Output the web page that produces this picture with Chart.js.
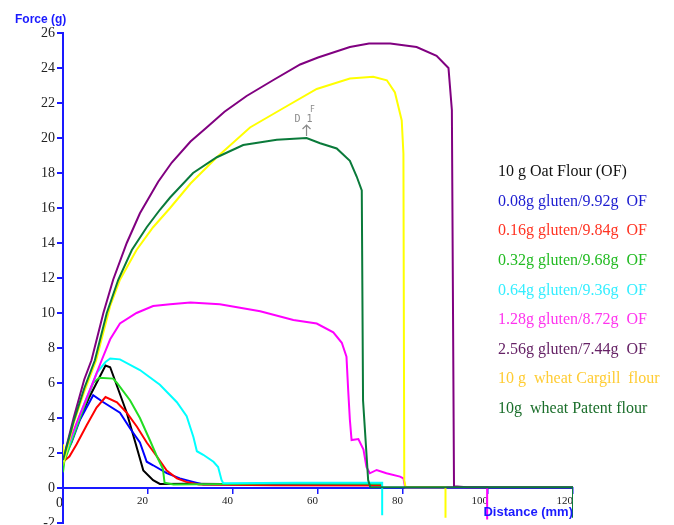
<!DOCTYPE html>
<html><head><meta charset="utf-8">
<script src="https://cdn.jsdelivr.net/npm/chart.js@4/dist/chart.umd.min.js"></script>
<style>html,body{margin:0;padding:0;background:#fff;}#wrap{width:674px;height:525px;position:relative;}</style>
</head><body><div id="wrap"><canvas id="c"></canvas></div>
<script>
// ---- data (distance mm, force g) ----
const oatX = [0, 3, 6, 10, 11.1, 12.6, 15, 16.9, 18.9, 21.2, 22.8, 30, 45, 60, 75];
const oatY = [1.7, 3.4, 5.1, 7.0, 6.9, 5.9, 4.3, 2.7, 1.0, 0.45, 0.23, 0.25, 0.22, 0.25, 0.25];

const g008X = [0, 2, 4, 7.1, 9.5, 13.4, 15.8, 18.1, 19.7, 21.2, 24.4, 27.5, 30.6, 33, 50, 75];
const g008Y = [1.6, 2.6, 3.9, 5.3, 4.9, 4.3, 3.4, 2.6, 1.5, 1.3, 0.85, 0.55, 0.35, 0.2, 0.2, 0.2];

const g016X = [0, 1.5, 3.2, 5.6, 7.9, 10, 12.7, 15, 17.4, 19.7, 22.1, 24.4, 26.8, 29, 32, 50, 75];
const g016Y = [1.5, 1.8, 2.5, 3.6, 4.6, 5.2, 4.9, 4.3, 3.5, 2.6, 1.8, 1.0, 0.55, 0.35, 0.2, 0.15, 0.15];

const g032X = [0, 0.3, 4, 7.1, 8.5, 11.8, 12.7, 15.8, 18.1, 20.5, 22.1, 23.5, 23.9, 26, 50, 75];
const g032Y = [0.9, 1.5, 4.0, 6.0, 6.3, 6.25, 6.0, 5.0, 4.0, 2.7, 1.8, 1.1, 0.3, 0.2, 0.25, 0.25];

const g064X = [0, 4, 8, 10, 11.1, 13.4, 18.1, 22.8, 26.8, 29.1, 30.7, 31.5, 33, 35.4, 36.5, 37.3, 37.7, 55, 75.1, 75.1];
const g064Y = [1.5, 4.2, 6.6, 7.2, 7.4, 7.35, 6.74, 5.9, 4.9, 4.1, 2.9, 2.1, 1.9, 1.5, 1.2, 0.46, 0.27, 0.3, 0.3, -1.55];

const g128X = [0, 3.5, 7, 9.1, 11.1, 13.4, 17.3, 21.2, 25.2, 30, 36.9, 46.4, 54.2, 59.7, 63.6, 65.6, 66.7, 67.1, 67.5, 67.9, 69.5, 70.7, 71.4, 72.2, 73.8, 76.1, 79.3, 80.1, 80.5, 99.8, 99.8];
const g128Y = [1.7, 3.9, 6.0, 7.3, 8.5, 9.4, 10.0, 10.4, 10.5, 10.6, 10.5, 10.1, 9.6, 9.4, 8.9, 8.3, 7.5, 5.6, 3.9, 2.74, 2.8, 2.2, 1.2, 0.84, 1.03, 0.84, 0.65, 0.55, 0.05, 0.05, -1.8];

const g256X = [0, 2.5, 5, 6.7, 9.5, 11.8, 15, 18.1, 22.4, 25.6, 30, 33.8, 38, 43.2, 49.4, 55.8, 60, 67.5, 72, 77, 83.2, 87.9, 90.7, 91.5, 92, 95, 120];
const g256Y = [1.6, 4.0, 6.2, 7.3, 10.0, 11.9, 14.0, 15.7, 17.5, 18.6, 19.8, 20.6, 21.5, 22.4, 23.3, 24.2, 24.6, 25.2, 25.4, 25.4, 25.2, 24.7, 24.0, 21.6, 0.1, 0.05, 0.05];

const cargillX = [0, 0.3, 2.5, 5, 7.8, 11.1, 13.4, 17.3, 21.2, 25.2, 30, 36.2, 44, 51.8, 59.7, 67.5, 73, 76.2, 78.1, 79.7, 80.1, 80.3, 80.6, 90, 90];
const cargillY = [2.5, 1.6, 3.7, 5.5, 7.3, 10.4, 11.9, 13.6, 14.9, 16.0, 17.4, 18.9, 20.6, 21.7, 22.8, 23.4, 23.5, 23.3, 22.6, 21.0, 19.1, 0.45, 0.05, 0.05, -1.7];

const patentX = [0, 2.5, 5, 7.5, 10.3, 13, 16.2, 19.7, 22.8, 25.2, 30.6, 36.2, 42.4, 50.3, 57.3, 60.5, 64.4, 67.5, 69.1, 70.3, 70.6, 71.8, 72.3, 120, 120];
const patentY = [1.6, 3.8, 5.7, 7.3, 10.0, 11.9, 13.6, 14.9, 15.9, 16.6, 18.0, 18.9, 19.6, 19.9, 20.0, 19.7, 19.4, 18.7, 17.8, 17.0, 5.0, 0.45, 0.05, 0.05, -1.7];

const seriesNames = [
  '10 g Oat Flour (OF)',
  '0.08g gluten/9.92g  OF',
  '0.16g gluten/9.84g  OF',
  '0.32g gluten/9.68g  OF',
  '0.64g gluten/9.36g  OF',
  '1.28g gluten/8.72g  OF',
  '2.56g gluten/7.44g  OF',
  '10 g  wheat Cargill  flour',
  '10g  wheat Patent flour'
];
const seriesX = [oatX, g008X, g016X, g032X, g064X, g128X, g256X, cargillX, patentX];
const seriesY = [oatY, g008Y, g016Y, g032Y, g064Y, g128Y, g256Y, cargillY, patentY];
const lineColors = ['#000000', '#0000ff', '#ff0000', '#22dd22', '#00ffff', '#ff00ff', '#800080', '#ffff00', '#0a7a3a'];
const legendColors = ['#111111', '#1c1cd0', '#ff3322', '#22bb22', '#33eeff', '#ff33ee', '#662266', '#ffcc33', '#1a6e2a'];

const annotation = { x: 57.3, y: 20.0 };

const datasets = seriesNames.map((name, i) => ({
  label: name,
  data: seriesX[i].map((x, j) => ({ x: x, y: seriesY[i][j] })),
  borderColor: lineColors[i],
  backgroundColor: lineColors[i],
  borderWidth: 2,
  pointRadius: 0,
  tension: 0,
  fill: false,
  order: seriesNames.length - i
}));

const overlay = {
  id: 'overlay',
  afterDraw(chart) {
    const ctx = chart.ctx;
    const xs = chart.scales.x, ys = chart.scales.y;
    ctx.save();
    // axis titles
    ctx.fillStyle = '#1a1aff';
    ctx.font = 'bold 12px "Liberation Sans", Arial, sans-serif';
    ctx.textBaseline = 'middle';
    ctx.textAlign = 'left';
    ctx.fillText('Force (g)', 15, 20);
    ctx.font = 'bold 13px "Liberation Sans", Arial, sans-serif';
    ctx.textAlign = 'right';
    ctx.fillText('Distance (mm)', chart.chartArea.right, 512);
    // legend
    ctx.font = '16px "Liberation Serif", "Times New Roman", serif';
    ctx.textAlign = 'left';
    seriesNames.forEach((n, i) => {
      ctx.fillStyle = legendColors[i];
      ctx.fillText(n, 498, 172 + i * 29.6);
    });
    // D1 annotation
    const px = xs.getPixelForValue(annotation.x);
    const py = ys.getPixelForValue(annotation.y);
    ctx.strokeStyle = '#8a8a8a';
    ctx.fillStyle = '#8a8a8a';
    ctx.lineWidth = 1.2;
    ctx.beginPath();
    ctx.moveTo(px, py - 2); ctx.lineTo(px, py - 13);
    ctx.moveTo(px - 4, py - 9); ctx.lineTo(px, py - 13); ctx.lineTo(px + 4, py - 9);
    ctx.stroke();
    ctx.font = '10px "DejaVu Sans Mono", monospace';
    ctx.textAlign = 'center';
    ctx.fillText('D 1', px - 3, py - 19);
    ctx.font = '8px "DejaVu Sans Mono", monospace';
    ctx.fillText('F', px + 6, py - 28);
    ctx.restore();
  }
};

new Chart(document.getElementById('c'), {
  type: 'line',
  data: { datasets: datasets },
  plugins: [overlay],
  options: {
    responsive: true,
    maintainAspectRatio: false,
    animation: false,
    devicePixelRatio: 1,
    layout: { padding: { top: 33, right: 101, bottom: 2, left: 0 } },
    plugins: { legend: { display: false }, tooltip: { enabled: false } },
    scales: {
      x: {
        type: 'linear',
        position: { y: 0 },
        min: 0, max: 120,
        grid: { display: true, drawOnChartArea: false, drawTicks: true, tickLength: 5, color: '#1a1aff', lineWidth: 1.5 },
        border: { display: true, color: '#1a1aff', width: 2 },
        ticks: {
          stepSize: 20, align: 'end', padding: 2, color: '#222',
          font: (c) => ({ family: '"Liberation Serif", "Times New Roman", serif', size: c.index === 0 ? 14 : 11 })
        },
        afterFit(s) { s.paddingLeft = 0; s.paddingRight = 0; }
      },
      y: {
        type: 'linear',
        position: 'left',
        min: -2, max: 26,
        grid: { display: true, drawOnChartArea: false, drawTicks: true, tickLength: 6, color: '#1a1aff', lineWidth: 2 },
        border: { display: true, color: '#1a1aff', width: 2 },
        ticks: { stepSize: 2, padding: 2, color: '#222', font: { family: '"Liberation Serif", "Times New Roman", serif', size: 14 } },
        afterFit(s) { s.width = 63; s.paddingTop = 0; s.paddingBottom = 0; }
      }
    }
  }
});
</script></body></html>
